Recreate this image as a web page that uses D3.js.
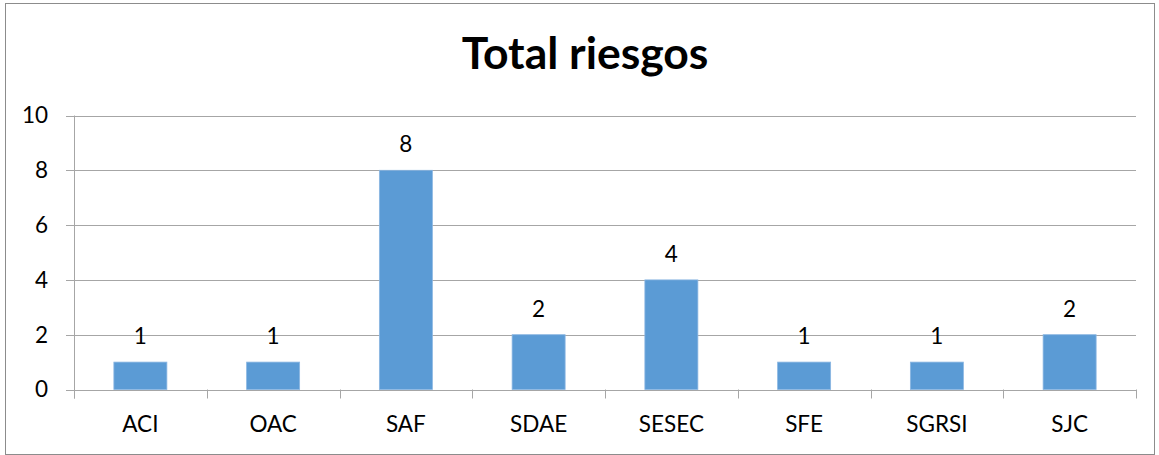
<!DOCTYPE html>
<html><head><meta charset="utf-8">
<script src="https://cdn.jsdelivr.net/npm/d3@7"></script>
<style>body{margin:0;background:#fff}svg{display:block}</style>
</head><body>
<script>
const categories = ["ACI","OAC","SAF","SDAE","SESEC","SFE","SGRSI","SJC"];
const values = [1,1,8,2,4,1,1,2];
const yTicks = [0,2,4,6,8,10];
const title = "Total riesgos";

const W = 1159, H = 455;
const svg = d3.select("body").append("svg").attr("width", W).attr("height", H);
const font = "Lato, 'Open Sans', sans-serif";

svg.append("rect").attr("x",5.5).attr("y",3.5).attr("width",W-10).attr("height",H-4)
  .attr("fill","#fff").attr("stroke","#8c8c8c").attr("stroke-width",1);

const m = {left:74, right:1136, top:115.5, bottom:389.5};
const x = d3.scaleBand().domain(categories).range([m.left, m.right]).padding(0);
const y = d3.scaleLinear().domain([0,10]).range([m.bottom, m.top]);

svg.append("text").attr("x",585).attr("y",69).attr("text-anchor","middle")
  .attr("font-family",font).attr("font-weight","bold").attr("font-size",44.5)
  .attr("fill","#000").text(title);

// gridlines
svg.append("g").selectAll("line").data(yTicks).join("line")
  .attr("x1",m.left-8).attr("x2",m.right)
  .attr("y1",d=>Math.round(y(d))+0.5).attr("y2",d=>Math.round(y(d))+0.5)
  .attr("stroke","#a6a6a6").attr("stroke-width",1);

// y axis line
svg.append("line").attr("x1",m.left+0.5).attr("x2",m.left+0.5)
  .attr("y1",m.top).attr("y2",m.bottom+9).attr("stroke","#a6a6a6");

// x ticks at band boundaries
const bounds = categories.map(c=>x(c)).concat([m.right]);
svg.append("g").selectAll("line").data(bounds).join("line")
  .attr("x1",d=>Math.round(d)+0.5).attr("x2",d=>Math.round(d)+0.5)
  .attr("y1",m.bottom).attr("y2",m.bottom+9).attr("stroke","#a6a6a6");

// y labels
svg.append("g").selectAll("text").data(yTicks).join("text")
  .attr("x",48).attr("y",d=>y(d)).attr("dy","0.35em").attr("text-anchor","end")
  .attr("font-family",font).attr("font-size",22.5).attr("fill","#000").text(d=>d);

// x labels
svg.append("g").selectAll("text").data(categories).join("text")
  .attr("x",d=>x(d)+x.bandwidth()/2).attr("y",432).attr("text-anchor","middle")
  .attr("font-family",font).attr("font-size",22.5).attr("fill","#000").text(d=>d);

// bars
const bw = 53;
svg.append("g").selectAll("rect").data(values).join("rect")
  .attr("x",(d,i)=>x(categories[i])+(x.bandwidth()-bw)/2)
  .attr("y",d=>y(d)).attr("width",bw).attr("height",d=>y(0)-y(d))
  .attr("fill","#5b9bd5").attr("stroke","#8ab6e2").attr("stroke-width",0.8);

// data labels
svg.append("g").selectAll("text").data(values).join("text")
  .attr("x",(d,i)=>x(categories[i])+x.bandwidth()/2).attr("y",d=>y(d)-18)
  .attr("text-anchor","middle").attr("font-family",font).attr("font-size",22.5)
  .attr("fill","#000").text(d=>d);
</script>
</body></html>
